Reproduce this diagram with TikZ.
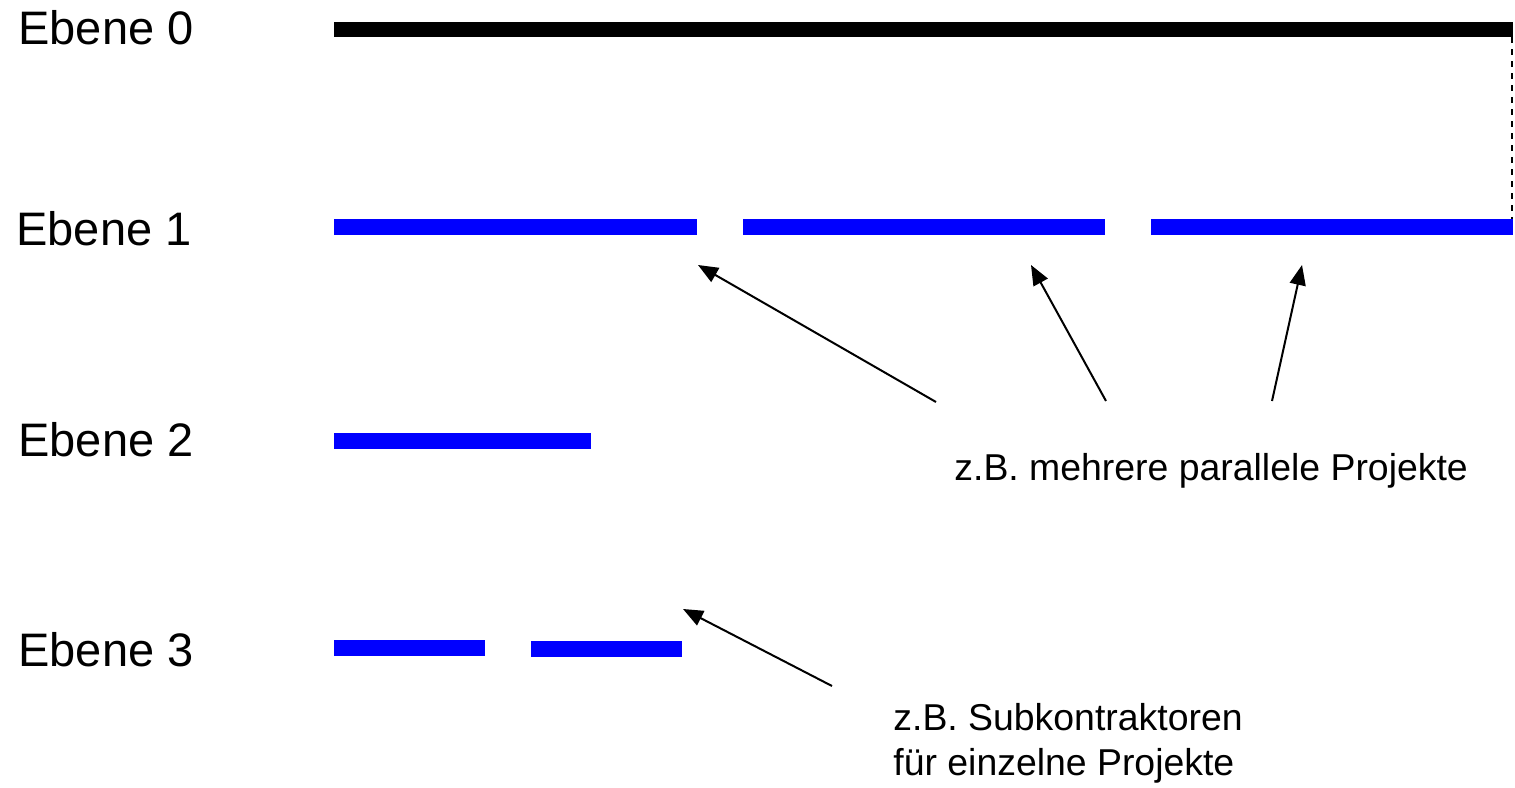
\documentclass[tikz,border=0pt]{standalone}
\usepackage{fontspec}
\setmainfont{Liberation Sans}
\usetikzlibrary{arrows.meta}
\definecolor{barblue}{RGB}{0,0,255}
\begin{document}
\begin{tikzpicture}[x=0.5pt,y=-0.5pt,
  barbase/.style={inner sep=0pt,outer sep=0pt,anchor=north west,minimum height=8pt},
  blackbar/.style={barbase,fill=black,minimum height=7.5pt},
  bluebar/.style={barbase,fill=barblue},
  level/.style={anchor=base west,inner sep=0pt,font=\fontsize{23.5pt}{28pt}\selectfont},
  note/.style={anchor=base west,inner sep=0pt,align=left,font=\fontsize{18.7pt}{22.5pt}\selectfont},
  pointer/.style={line width=1pt,-{Triangle[length=10pt,width=8pt]}},
  guide/.style={line width=0.9pt,dash pattern=on 3pt off 3pt}]
\useasboundingbox (0,0) rectangle (1515,787);
% level labels
\node[level] (l0) at (18,44) {Ebene 0};
\node[level] (l1) at (16,245) {Ebene 1};
\node[level] (l2) at (18,456) {Ebene 2};
\node[level] (l3) at (18,666) {Ebene 3};
% bars
\node[blackbar,minimum width=589.5pt] (b0) at (334,22) {};
\node[bluebar,minimum width=181.5pt] (b1a) at (334,219) {};
\node[bluebar,minimum width=181pt] (b1b) at (743,219) {};
\node[bluebar,minimum width=181pt] (b1c) at (1151,219) {};
\node[bluebar,minimum width=128.5pt] (b2) at (334,433) {};
\node[bluebar,minimum width=75.5pt] (b3a) at (334,640) {};
\node[bluebar,minimum width=75.5pt] (b3b) at (531,641) {};
% dashed guide
\draw[guide] ([xshift=-0.5pt]b0.south east) -- ([xshift=-0.5pt]b1c.north east);
% notes
\node[note] (n1) at (954,480) {z.B. mehrere parallele Projekte};
\node[note] (n2) at (893,775) {z.B. Subkontraktoren\\für einzelne Projekte};
% arrows
\coordinate (s1) at (936,402); \coordinate (t1) at (698,265);
\coordinate (s2) at (1106,401); \coordinate (t2) at (1031,265);
\coordinate (s3) at (1272,401); \coordinate (t3) at (1302,265);
\coordinate (s4) at (832,686); \coordinate (t4) at (683,609);
\draw[pointer] (s1) -- (t1);
\draw[pointer] (s2) -- (t2);
\draw[pointer] (s3) -- (t3);
\draw[pointer] (s4) -- (t4);
\end{tikzpicture}
\end{document}
